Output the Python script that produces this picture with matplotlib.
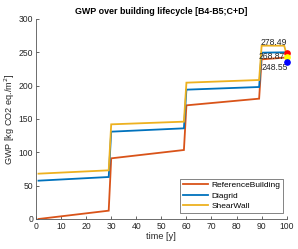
import matplotlib
matplotlib.use("Agg")
import matplotlib.pyplot as plt

plt.rcParams['font.family'] = ['Liberation Sans', 'DejaVu Sans']

years = [1, 29, 30, 59, 60, 89, 90, 99, 100]
ref_vals = [0, 12.5, 91, 103.5, 170.5, 180.5, 239.5, 242, 242]
diagrid_vals = [57.5, 63, 131, 136, 194, 198, 249.5, 250, 250]
shear_vals = [68, 73, 142, 146, 204.5, 208.5, 260, 260, 246]
series_names = ["ReferenceBuilding", "Diagrid", "ShearWall"]
series_colors = ["#D95319", "#0072BD", "#EDB120"]

end_dots_y = [249.5, 243.5, 236]
end_dots_colors = ["#FF0000", "#FFFF00", "#0000FF"]
end_labels = ["278.49", "268.87", "248.55"]
end_label_pos = [(94.7, 265), (94.0, 243.4), (95.1, 227)]

xticks = list(range(0, 101, 10))
yticks = list(range(0, 301, 50))

fig = plt.figure(figsize=(2.98, 2.49), dpi=100)
ax = fig.add_axes([36/298, 1-219/249, (286.7-36)/298, (219-19)/249])

for vals, name, c in zip([ref_vals, diagrid_vals, shear_vals], series_names, series_colors):
    ax.plot(years, vals, color=c, lw=1.3, label=name, solid_joinstyle='miter')

for yv, c in zip(end_dots_y, end_dots_colors):
    ax.plot([100], [yv], 'o', color=c, ms=3.8, mec=c, clip_on=False, zorder=5)

for t, (xx, yy) in zip(end_labels, end_label_pos):
    ax.text(xx, yy, t, ha='center', va='center', fontsize=6.2, color='#262626')

ax.set_xlim(0, 100)
ax.set_ylim(0, 300)
ax.set_xticks(xticks)
ax.set_yticks(yticks)
ax.tick_params(direction='in', length=2, width=0.5, labelsize=6.2, colors='#262626', pad=2)
for s in ['top', 'right']:
    ax.spines[s].set_visible(False)
for s in ['left', 'bottom']:
    ax.spines[s].set_linewidth(0.6)
    ax.spines[s].set_color('#555555')

ax.set_title("GWP over building lifecycle [B4-B5;C+D]", fontsize=6.4, fontweight='bold', color='#000000', pad=3.5)
ax.set_xlabel("time [y]", fontsize=6.6, color='#262626', labelpad=1)
ax.set_ylabel(r"GWP [kg CO2 eq./m$^2$]", fontsize=6.6, color='#262626', labelpad=1)

leg = ax.legend(loc='lower right', fontsize=6, frameon=True, fancybox=False,
                edgecolor='#262626', handlelength=3.0, borderpad=0.35, labelspacing=0.3,
                handletextpad=0.4, bbox_to_anchor=(1.003, 0.01))
leg.get_frame().set_linewidth(0.5)

fig.savefig("out.png", dpi=100)
